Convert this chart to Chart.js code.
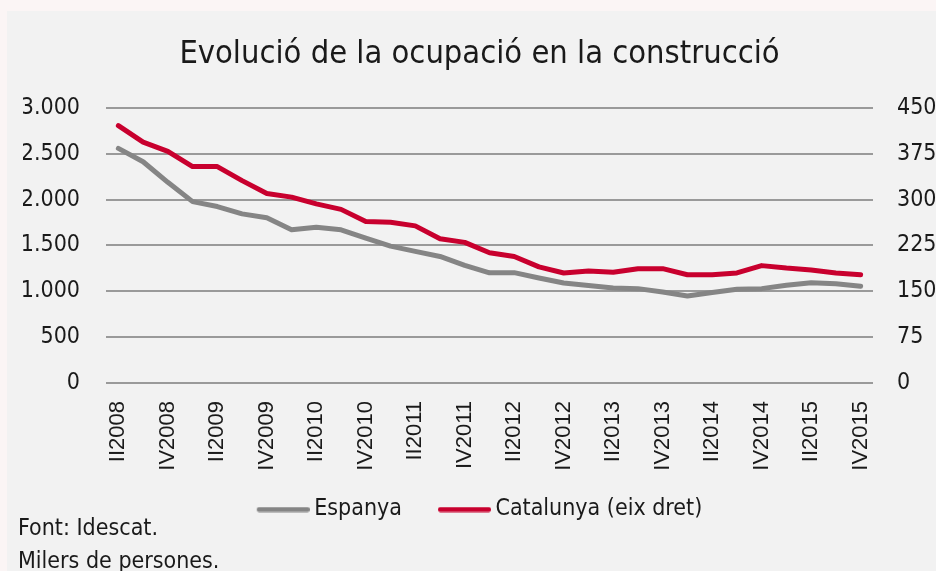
<!DOCTYPE html>
<html>
<head>
<meta charset="utf-8">
<script src="https://cdn.jsdelivr.net/npm/chart.js@4.4.1/dist/chart.umd.min.js"></script>
<style>
  html, body { margin: 0; padding: 0; background: #fbf5f5; }
  #panel { position: absolute; left: 7px; top: 11px; width: 929px; height: 560px; background: #f2f2f2; }
  #wrap { position: absolute; left: 0; top: 0; width: 936px; height: 571px; }
  .note { position: absolute; left: 18px; font-family: "DejaVu Sans Condensed", "DejaVu Sans", sans-serif; font-size: 23px; color: #1a1a1a; white-space: nowrap; }
</style>
</head>
<body>
<div id="panel"></div>
<div id="wrap"><canvas id="mycanvas" width="936" height="571"></canvas></div>
<div class="note" style="top:514px">Font: Idescat.</div>
<div class="note" style="top:547px">Milers de persones.</div>
<script>
// ** Ocupació en la construcció - Espanya vs Catalunya

var quarters = ['II2008','III2008','IV2008',
  'I2009','II2009','III2009','IV2009',
  'I2010','II2010','III2010','IV2010',
  'I2011','II2011','III2011','IV2011',
  'I2012','II2012','III2012','IV2012',
  'I2013','II2013','III2013','IV2013',
  'I2014','II2014','III2014','IV2014',
  'I2015','II2015','III2015','IV2015'];

// milers de persones
var espanya = [2558, 2413, 2188, 1978, 1924, 1844, 1801, 1670, 1699, 1670,
  1580, 1493, 1435, 1380, 1283, 1201, 1203, 1145, 1090, 1062,
  1036, 1029, 993, 949, 986, 1022, 1029, 1065, 1094, 1083, 1054];

var catalunya = [421, 394, 379, 354, 354, 331, 310, 304, 293, 284,
  264, 263, 257, 236, 230, 213, 207, 190, 180, 183,
  181, 187, 187, 177, 177, 180, 192, 188, 185, 180, 177];

var leftTicks = ['0', '500', '1.000', '1.500', '2.000', '2.500', '3.000'];
var rightTicks = ['0', '75', '150', '225', '300', '375', '450'];

var condensed = '"DejaVu Sans Condensed", "DejaVu Sans", sans-serif';

// legend marker: thick rounded line, drawn to the right part of a small canvas
function marker(color) {
	var c = document.createElement('canvas');
	c.width = 60; c.height = 6;
	var g = c.getContext('2d');
	g.strokeStyle = color;
	g.lineWidth = 5;
	g.lineCap = 'round';
	g.beginPath();
	g.moveTo(9.5, 3);
	g.lineTo(57.5, 3);
	g.stroke();
	return c;
}

// the rotated quarter labels run past the x scale box, so let them be drawn
var labelRoom = {
	id: 'labelRoom',
	afterLayout: function(chart) {
		chart.scales.x.bottom = chart.height;
	}
};

var chartdata = {
	labels: quarters,
	datasets: [{
		label: 'Espanya',
		data: espanya,
		borderColor: '#858585',
		backgroundColor: '#858585',
		borderWidth: 5,
		borderCapStyle: 'round',
		borderJoinStyle: 'round',
		pointRadius: 0,
		pointStyle: marker('#858585'),
		yAxisID: 'y'
	}, {
		label: 'Catalunya (eix dret)',
		data: catalunya,
		borderColor: '#c8002e',
		backgroundColor: '#c8002e',
		borderWidth: 5,
		borderCapStyle: 'round',
		borderJoinStyle: 'round',
		pointRadius: 0,
		pointStyle: marker('#c8002e'),
		yAxisID: 'y1'
	}]
};

var ctx = document.getElementById('mycanvas');

new Chart(ctx, {
	type: 'line',
	data: chartdata,
	plugins: [labelRoom],
	options: {
		responsive: false,
		animation: false,
		layout: { padding: { left: 23, bottom: 40 } },
		plugins: {
			title: {
				display: true,
				text: 'Evolució de la ocupació en la construcció',
				color: '#1a1a1a',
				font: { family: condensed, size: 32.4, weight: 'normal', lineHeight: 1.2 },
				padding: { top: 35, bottom: 34 }
			},
			legend: {
				position: 'bottom',
				labels: {
					usePointStyle: true,
					pointStyleWidth: 46,
					boxHeight: 6,
					padding: 36,
					color: '#1a1a1a',
					font: { family: condensed, size: 23 }
				}
			},
			tooltip: { enabled: false }
		},
		scales: {
			x: {
				offset: true,
				grid: { display: false, drawTicks: false },
				border: { display: false },
				afterFit: function(scale) { scale.height = 79; },
				ticks: {
					autoSkip: false,
					maxRotation: 90,
					minRotation: 90,
					padding: 18,
					color: '#1a1a1a',
					font: { family: '"Liberation Sans", Arial, sans-serif', size: 22 },
					callback: function(val, i) { return i % 2 === 0 ? quarters[i] : ''; }
				}
			},
			y: {
				position: 'left',
				min: 0, max: 3000,
				border: { display: false },
				grid: { color: '#9a9a9a', lineWidth: 2, drawTicks: false },
				afterFit: function(scale) { scale.width = 83; },
				ticks: {
					stepSize: 500,
					padding: 26,
					color: '#1a1a1a',
					font: { family: condensed, size: 23 },
					callback: function(val) { return leftTicks[val / 500]; }
				}
			},
			y1: {
				position: 'right',
				min: 0, max: 450,
				border: { display: false },
				grid: { drawOnChartArea: false, drawTicks: false },
				afterFit: function(scale) { scale.width = 63; },
				ticks: {
					stepSize: 75,
					padding: 24,
					color: '#1a1a1a',
					font: { family: condensed, size: 23 },
					callback: function(val) { return rightTicks[val / 75]; }
				}
			}
		}
	}
});
</script>
</body>
</html>
